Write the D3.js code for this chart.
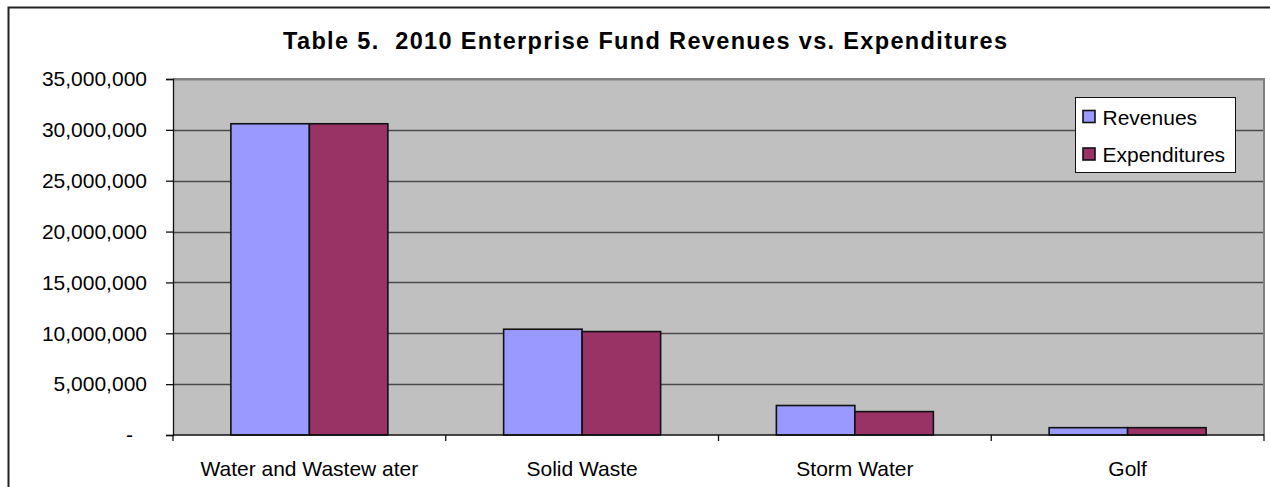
<!DOCTYPE html>
<html>
<head>
<meta charset="utf-8">
<script src="https://cdn.jsdelivr.net/npm/d3@7"></script>
<style>
  html, body { margin: 0; padding: 0; background: #fff; }
  svg { display: block; font-family: Arial, "Liberation Sans", sans-serif; }
</style>
</head>
<body>
<svg id="chart" width="1270" height="487"></svg>
<script>
// Enterprise fund figures, 2010
const categories = ["Water and Wastew ater", "Solid Waste", "Storm Water", "Golf"];
const seriesNames = ["Revenues", "Expenditures"];
const revenues = [30600000, 10400000, 2900000, 720000];
const expenditures = [30600000, 10170000, 2300000, 720000];
const yTicks = [0, 5000000, 10000000, 15000000, 20000000, 25000000, 30000000, 35000000];
const titleText = "Table 5.  2010 Enterprise Fund Revenues vs. Expenditures";

const colors = { Revenues: "#9999ff", Expenditures: "#993366" };
const seriesValues = { Revenues: revenues, Expenditures: expenditures };

const svg = d3.select("#chart");
const plot = { left: 173, right: 1264, top: 79, bottom: 435 };
const labelSize = 21;

// Outer chart frame (continues past the right and bottom edges)
svg.append("rect")
  .attr("x", 8.5).attr("y", 7.5)
  .attr("width", 1300).attr("height", 600)
  .attr("fill", "#fff").attr("stroke", "#222").attr("stroke-width", 2);

// Title, stretched across its spaced-out width
svg.append("text")
  .attr("x", 283).attr("y", 49)
  .attr("font-size", 23.5).attr("font-weight", "bold")
  .attr("fill", "#000")
  .style("white-space", "pre")
  .attr("textLength", 724).attr("lengthAdjust", "spacing")
  .text(titleText);

const x = d3.scaleBand().domain(categories).range([plot.left, plot.right]);
const y = d3.scaleLinear().domain([0, 35000000]).range([plot.bottom, plot.top]);

// Plot area background
svg.append("rect")
  .attr("x", plot.left).attr("y", plot.top)
  .attr("width", plot.right - plot.left).attr("height", plot.bottom - plot.top)
  .attr("fill", "#c0c0c0");

// Horizontal gridlines
svg.append("g").selectAll("line")
  .data(yTicks.filter(d => d > 0))
  .join("line")
  .attr("x1", plot.left).attr("x2", plot.right)
  .attr("y1", d => Math.round(y(d)) + 0.5).attr("y2", d => Math.round(y(d)) + 0.5)
  .attr("stroke", "#4a4a4a").attr("stroke-width", 1.3);

// Plot area border (top/right)
svg.append("path")
  .attr("d", `M${plot.left},${plot.top} H${plot.right} V${plot.bottom}`)
  .attr("fill", "none").attr("stroke", "#808080").attr("stroke-width", 2);

// Bars: two adjacent bars centred in each category band
const groupWidth = 157;
const barW = groupWidth / 2;
const groups = svg.append("g").selectAll("g")
  .data(categories)
  .join("g")
  .attr("transform", d => `translate(${x(d) + (x.bandwidth() - groupWidth) / 2},0)`);

groups.selectAll("rect")
  .data((d, i) => seriesNames.map((s, j) => ({ s, j, v: seriesValues[s][i] })))
  .join("rect")
  .attr("x", d => d.j * barW)
  .attr("y", d => y(d.v))
  .attr("width", barW)
  .attr("height", d => y(0) - y(d.v))
  .attr("fill", d => colors[d.s])
  .attr("stroke", "#111").attr("stroke-width", 1.6);

// Y axis
const yAxis = d3.axisLeft(y)
  .tickValues(yTicks)
  .tickSize(7)
  .tickPadding(19)
  .tickFormat(d => d === 0 ? "-" : d3.format(",")(d));
const yg = svg.append("g").attr("transform", `translate(${plot.left},0)`).call(yAxis);
yg.select(".domain").attr("stroke", "#111").attr("stroke-width", 1.3);
yg.selectAll(".tick line").attr("stroke", "#111").attr("stroke-width", 1.3);
yg.selectAll(".tick text")
  .attr("font-size", labelSize).attr("fill", "#000")
  .attr("font-family", "Arial, 'Liberation Sans', sans-serif")
  .attr("dx", d => d === 0 ? -14 : 0);

// X axis with category boundary ticks
const xg = svg.append("g").attr("transform", `translate(0,${plot.bottom})`);
xg.append("line")
  .attr("x1", plot.left).attr("x2", plot.right)
  .attr("stroke", "#111").attr("stroke-width", 1.3);
const bounds = categories.map(c => x(c)).concat([plot.right]);
xg.selectAll("line.bt")
  .data(bounds)
  .join("line").attr("class", "bt")
  .attr("x1", d => d).attr("x2", d => d)
  .attr("y1", 0).attr("y2", 6)
  .attr("stroke", "#111").attr("stroke-width", 1.3);
xg.selectAll("text")
  .data(categories)
  .join("text")
  .attr("x", d => x(d) + x.bandwidth() / 2)
  .attr("y", 41)
  .attr("text-anchor", "middle")
  .attr("font-size", labelSize).attr("fill", "#000")
  .text(d => d);

// Legend
const legend = svg.append("g").attr("transform", "translate(1075.5,97.5)");
legend.append("rect")
  .attr("width", 160).attr("height", 75)
  .attr("fill", "#fff").attr("stroke", "#111").attr("stroke-width", 1);
const items = legend.selectAll("g.item")
  .data(seriesNames)
  .join("g").attr("class", "item")
  .attr("transform", (d, i) => `translate(0,${19 + i * 37.5})`);
items.append("rect")
  .attr("x", 7.5).attr("y", -6)
  .attr("width", 12).attr("height", 12)
  .attr("fill", d => colors[d]).attr("stroke", "#111").attr("stroke-width", 1.6);
items.append("text")
  .attr("x", 27).attr("y", 8)
  .attr("font-size", labelSize).attr("fill", "#000")
  .text(d => d);
</script>
</body>
</html>
